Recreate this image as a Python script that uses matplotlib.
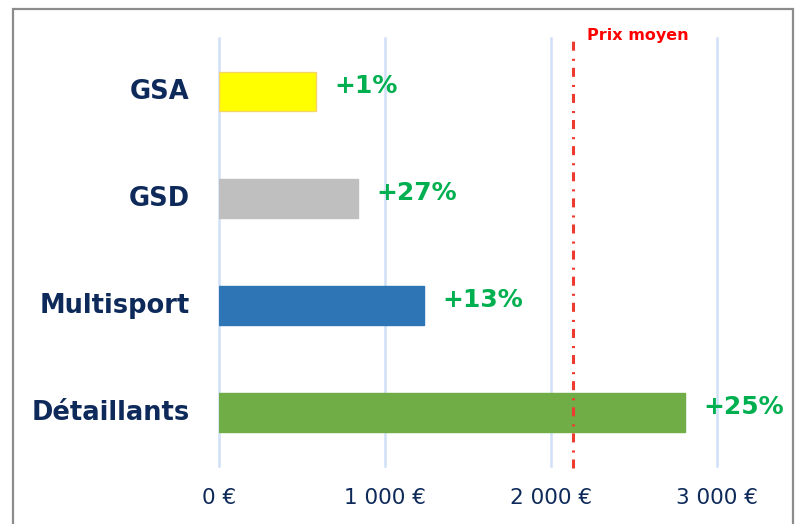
"""
Prix moyen par circuit de distribution - barres horizontales.
"""
import matplotlib
matplotlib.use("Agg")
import matplotlib.pyplot as plt
import matplotlib.transforms as mtransforms
from matplotlib.patches import Rectangle

plt.rcParams.update({"font.family": ["DejaVu Sans"], "lines.scale_dashes": False})

# --- data ---
categories = ["GSA", "GSD", "Multisport", "Détaillants"]
prices = [585, 840, 1235, 2810]
growth = ["+1%", "+27%", "+13%", "+25%"]
bar_colors = ["#FFFF00", "#BFBFBF", "#2E75B6", "#70AD47"]
bar_edges = ["#F7D36B", "#BFBFBF", "#2E75B6", "#70AD47"]
avg_price = 2135
xticks = [0, 1000, 2000, 3000]
xtick_labels = ["0 €", "1 000 €", "2 000 €", "3 000 €"]

NAVY = "#0E2A5A"
GREEN = "#00B050"

W, H = 797, 524
fig = plt.figure(figsize=(W / 100, H / 100), dpi=100)
ax = fig.add_axes([219 / W, (H - 466) / H, (717 - 219) / W, (466 - 38) / H])

ypos = list(range(len(categories)))
ax.barh(ypos, prices, height=0.36, color=bar_colors, edgecolor=bar_edges, linewidth=1, zorder=3)

for y, p, g in zip(ypos, prices, growth):
    ax.annotate(g, xy=(p, y), xytext=(13, 4), textcoords="offset points",
                ha="left", va="center", color=GREEN, fontsize=18, fontweight="bold",
                annotation_clip=False, zorder=5)

# average price line
ax.axvline(avg_price, ymin=-0.005, ymax=1.002, color="#EE3B2F", lw=2.2,
           linestyle=(0, (6.5, 5, 1.5, 5.8)), zorder=4, clip_on=False)
ax.text(587 / W, (H - 40) / H, "Prix moyen", transform=fig.transFigure,
        color="#FF0000", fontsize=11.5, fontweight="bold", ha="left", va="baseline")

ax.set_xlim(0, 3000)
ax.set_ylim(len(categories) - 0.5, -0.5)
ax.set_xticks(xticks)
ax.set_xticklabels(xtick_labels, fontsize=15.5, color=NAVY)
ax.set_yticks(ypos)
ax.set_yticklabels(categories, fontsize=18.5, fontweight="bold", color=NAVY)
ax.tick_params(axis="x", length=0, pad=16)
ax.tick_params(axis="y", length=0, pad=21)
shift_up = mtransforms.ScaledTranslation(0, 2.5 / 100, fig.dpi_scale_trans)
for lbl in ax.get_yticklabels():
    lbl.set_transform(lbl.get_transform() + shift_up)

ax.grid(axis="x", color="#D0E0F6", lw=1.8, zorder=0)
for gl in ax.get_xgridlines():
    gl.set_clip_on(False)
ax.set_axisbelow(True)
for s in ax.spines.values():
    s.set_visible(False)

# outer frame
fig.patches.append(Rectangle((13 / W, -0.05), (793 - 13) / W, (H - 9) / H + 0.05,
                             transform=fig.transFigure, fill=False,
                             edgecolor="#8C8C8C", lw=1.6))

fig.savefig("out.png", dpi=100)
